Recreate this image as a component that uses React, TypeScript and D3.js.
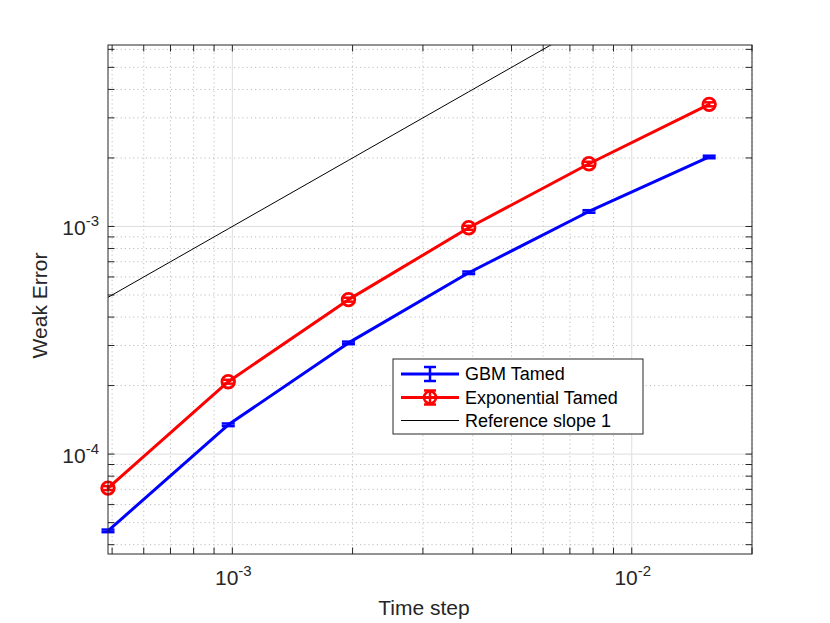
import React, { useEffect, useRef } from 'react';
import * as d3 from 'd3';

// time steps 2^-11 ... 2^-6
const timeSteps = [1 / 2048, 1 / 1024, 1 / 512, 1 / 256, 1 / 128, 1 / 64];
const gbmError = [4.6e-5, 1.345e-4, 3.08e-4, 6.26e-4, 1.164e-3, 2.02e-3];
const gbmDelta = [0.6e-6, 1.8e-6, 4e-6, 8e-6, 1.5e-5, 2.6e-5];
const expError = [7.09e-5, 2.08e-4, 4.77e-4, 9.87e-4, 1.886e-3, 3.44e-3];
const expDelta = [1.4e-6, 4e-6, 9.5e-6, 2e-5, 3.8e-5, 7e-5];
const refError = timeSteps.map((t) => t); // slope 1 reference: error = dt

const xTickExps = [-3, -2];
const yTickExps = [-4, -3];
const legendLabels = ['GBM Tamed', 'Exponential Tamed', 'Reference slope 1'];

export default function App() {
  const svgRef = useRef<SVGSVGElement>(null);

  useEffect(() => {
    if (!svgRef.current) return;
    const svg = d3.select(svgRef.current);
    const width = 830;
    const height = 623;
    const margin = { top: 45, right: 78, bottom: 69, left: 108 };
    const axisColor = '#262626';
    const font = '"Liberation Sans", Arial, Helvetica, sans-serif';

    svg.selectAll('*').remove();
    svg.attr('width', width).attr('height', height).attr('viewBox', [0, 0, width, height]);

    const x = d3.scaleLog().domain([1 / 2048, 0.02]).range([margin.left, width - margin.right]);
    const y = d3.scaleLog().domain([3.64e-5, 6.27e-3]).range([height - margin.bottom, margin.top]);
    const [x0, x1] = x.range();
    const [y0, y1] = y.range();

    const xMinor = x.ticks().filter((v) => !xTickExps.some((e) => Math.abs(v - 10 ** e) < 1e-12));
    const yMinor = y.ticks().filter((v) => !yTickExps.some((e) => Math.abs(v - 10 ** e) < 1e-12));

    // minor grid
    const grid = svg.append('g');
    grid.selectAll('.xm').data(xMinor).enter().append('line')
      .attr('x1', (d) => x(d)).attr('x2', (d) => x(d)).attr('y1', y0).attr('y2', y1)
      .attr('stroke', '#b8b8b8').attr('stroke-width', 0.9).attr('stroke-dasharray', '1.2,3');
    grid.selectAll('.ym').data(yMinor).enter().append('line')
      .attr('y1', (d) => y(d)).attr('y2', (d) => y(d)).attr('x1', x0).attr('x2', x1)
      .attr('stroke', '#b8b8b8').attr('stroke-width', 0.9).attr('stroke-dasharray', '1.2,3');
    // major grid
    grid.selectAll('.xM').data(xTickExps).enter().append('line')
      .attr('x1', (d) => x(10 ** d)).attr('x2', (d) => x(10 ** d)).attr('y1', y0).attr('y2', y1)
      .attr('stroke', '#dedede').attr('stroke-width', 1);
    grid.selectAll('.yM').data(yTickExps).enter().append('line')
      .attr('y1', (d) => y(10 ** d)).attr('y2', (d) => y(10 ** d)).attr('x1', x0).attr('x2', x1)
      .attr('stroke', '#dedede').attr('stroke-width', 1);

    // ticks on all four sides, pointing inward
    const tl = 6.5;
    const ticks = svg.append('g').attr('stroke', axisColor).attr('stroke-width', 1);
    const xAll = [...xMinor, ...xTickExps.map((e) => 10 ** e)];
    const yAll = [...yMinor, ...yTickExps.map((e) => 10 ** e)];
    xAll.forEach((v) => {
      ticks.append('line').attr('x1', x(v)).attr('x2', x(v)).attr('y1', y0).attr('y2', y0 - tl);
      ticks.append('line').attr('x1', x(v)).attr('x2', x(v)).attr('y1', y1).attr('y2', y1 + tl);
    });
    yAll.forEach((v) => {
      ticks.append('line').attr('y1', y(v)).attr('y2', y(v)).attr('x1', x0).attr('x2', x0 + tl);
      ticks.append('line').attr('y1', y(v)).attr('y2', y(v)).attr('x1', x1).attr('x2', x1 - tl);
    });

    // clip region for data
    svg.append('clipPath').attr('id', 'plot-clip').append('rect')
      .attr('x', x0).attr('y', y1).attr('width', x1 - x0).attr('height', y0 - y1);
    const plot = svg.append('g').attr('clip-path', 'url(#plot-clip)');

    const line = d3.line<number>().x((_, i) => x(timeSteps[i]));

    // reference slope line
    plot.append('path').datum(refError)
      .attr('fill', 'none').attr('stroke', '#000').attr('stroke-width', 1)
      .attr('d', line.y((d) => y(d)) as any);

    const drawSeries = (vals: number[], deltas: number[], color: string, circles: boolean) => {
      const g = svg.append('g');
      g.append('path').datum(vals)
        .attr('fill', 'none').attr('stroke', color).attr('stroke-width', 3).attr('stroke-linejoin', 'round')
        .attr('d', line.y((d) => y(d)) as any);
      vals.forEach((v, i) => {
        const cx = x(timeSteps[i]);
        const yt = y(v + deltas[i]);
        const yb = y(v - deltas[i]);
        g.append('line').attr('x1', cx).attr('x2', cx).attr('y1', yt).attr('y2', yb)
          .attr('stroke', color).attr('stroke-width', 2.5);
        [yt, yb].forEach((yy) => {
          g.append('line').attr('x1', cx - (circles ? 5 : 6.5)).attr('x2', cx + (circles ? 5 : 6.5))
            .attr('y1', yy).attr('y2', yy).attr('stroke', color).attr('stroke-width', 2.5);
        });
        if (circles) {
          g.append('circle').attr('cx', cx).attr('cy', y(v)).attr('r', 6.3)
            .attr('fill', 'none').attr('stroke', color).attr('stroke-width', 2.8);
        }
      });
    };
    drawSeries(gbmError, gbmDelta, '#0000ff', false);
    drawSeries(expError, expDelta, '#ff0000', true);

    // axis box
    svg.append('rect').attr('x', x0).attr('y', y1).attr('width', x1 - x0).attr('height', y0 - y1)
      .attr('fill', 'none').attr('stroke', axisColor).attr('stroke-width', 1);

    // tick labels
    xTickExps.forEach((e) => {
      const t = svg.append('text').attr('x', x(10 ** e) + 1).attr('y', y0 + 31)
        .attr('text-anchor', 'middle').attr('font-family', font).attr('font-size', 21).attr('fill', axisColor);
      t.append('tspan').text('10');
      t.append('tspan').attr('dy', -9).attr('font-size', 15).text(String(e));
    });
    yTickExps.forEach((e) => {
      const t = svg.append('text').attr('x', x0 - 9).attr('y', y(10 ** e) + 9)
        .attr('text-anchor', 'end').attr('font-family', font).attr('font-size', 21).attr('fill', axisColor);
      t.append('tspan').text('10');
      t.append('tspan').attr('dy', -9).attr('font-size', 15).text(String(e));
    });

    // axis labels
    svg.append('text').attr('x', 424).attr('y', 615).attr('text-anchor', 'middle')
      .attr('font-family', font).attr('font-size', 21).attr('fill', axisColor).text('Time step');
    svg.append('text').attr('transform', `translate(47,${(y0 + y1) / 2 + 6}) rotate(-90)`)
      .attr('text-anchor', 'middle').attr('font-family', font).attr('font-size', 21).attr('fill', axisColor)
      .text('Weak Error');

    // legend
    const lg = svg.append('g').attr('transform', 'translate(393,359)');
    lg.append('rect').attr('width', 250).attr('height', 75).attr('fill', '#fff')
      .attr('stroke', axisColor).attr('stroke-width', 1);
    const rowY = [15, 38.5, 61.5];
    const colors = ['#0000ff', '#ff0000', '#000'];
    legendLabels.forEach((label, i) => {
      const ry = rowY[i];
      lg.append('line').attr('x1', 8).attr('x2', 66).attr('y1', ry).attr('y2', ry)
        .attr('stroke', colors[i]).attr('stroke-width', i < 2 ? 3 : 1);
      if (i < 2) {
        lg.append('line').attr('x1', 37).attr('x2', 37).attr('y1', ry - 7).attr('y2', ry + 7)
          .attr('stroke', colors[i]).attr('stroke-width', 2.5);
        [ry - 7, ry + 7].forEach((yy) =>
          lg.append('line').attr('x1', 31).attr('x2', 43).attr('y1', yy).attr('y2', yy)
            .attr('stroke', colors[i]).attr('stroke-width', 2.5));
        if (i === 1) {
          lg.append('circle').attr('cx', 37).attr('cy', ry).attr('r', 6)
            .attr('fill', 'none').attr('stroke', colors[i]).attr('stroke-width', 2.5);
        }
      }
      lg.append('text').attr('x', 72).attr('y', ry + 6).attr('font-family', font).attr('font-size', 18)
        .attr('fill', '#000').text(label);
    });
  }, []);

  return (
    <div style={{ position: 'absolute', left: 0, top: 0 }}>
      <svg ref={svgRef} style={{ display: 'block', background: '#fff' }} />
    </div>
  );
}
